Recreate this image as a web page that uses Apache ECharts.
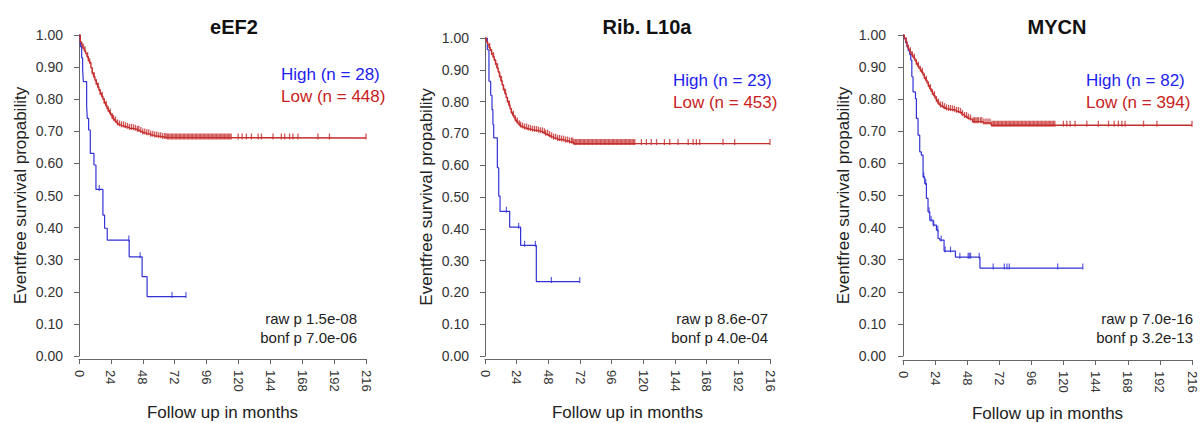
<!DOCTYPE html>
<html>
<head>
<meta charset="utf-8">
<title>Eventfree survival</title>
<script src="https://cdn.jsdelivr.net/npm/echarts@6/dist/echarts.min.js"></script>
<style>
  html, body { margin: 0; padding: 0; background: #fff; }
  #chart { width: 1200px; height: 423px; }
</style>
</head>
<body>
<div id="chart"></div>
<script>
// axis ticks
var xTicks = [0, 24, 48, 72, 96, 120, 144, 168, 192, 216]
var yTicks = [0, 0.1, 0.2, 0.3, 0.4, 0.5, 0.6, 0.7, 0.8, 0.9, 1.0]

var titles = ['eEF2', 'Rib. L10a', 'MYCN']
var highN = [28, 23, 82]
var lowN = [448, 453, 394]
var rawP = ['1.5e-08', '8.6e-07', '7.0e-16']
var bonfP = ['7.0e-06', '4.0e-04', '3.2e-13']

// eEF2 - high group
var eef2HighT = [0, 1, 2, 2.75, 3.25, 5.75, 6.25, 7.25, 8.5, 11.25, 12.75, 18, 19.25, 21.25, 37.75, 47.5, 51.25, 80.5]
var eef2HighS = [1.0, 0.964, 0.929, 0.891, 0.855, 0.777, 0.74, 0.704, 0.631, 0.595, 0.519, 0.439, 0.398, 0.361, 0.309, 0.247, 0.185, 0.185]
var eef2HighCens = [15.25, 37.5, 46, 70, 80.5]
// eEF2 - low group
var eef2LowT = [0, 1, 2, 3, 4, 5, 6, 7, 8, 9, 10, 11, 12, 13, 14, 15, 16, 17, 18, 19, 20, 21, 22, 23, 24, 25, 26, 27, 28, 29, 30, 32, 34, 36, 38, 40, 42, 44, 46, 48, 51, 54, 57, 60, 63, 66, 216]
var eef2LowS = [1.0, 0.978, 0.968, 0.960, 0.951, 0.942, 0.933, 0.920, 0.914, 0.898, 0.882, 0.870, 0.859, 0.849, 0.838, 0.828, 0.818, 0.809, 0.800, 0.790, 0.781, 0.772, 0.765, 0.757, 0.750, 0.743, 0.737, 0.732, 0.727, 0.723, 0.720, 0.717, 0.714, 0.712, 0.709, 0.708, 0.706, 0.703, 0.699, 0.695, 0.692, 0.688, 0.685, 0.683, 0.681, 0.679, 0.679]
var eef2LowCens = [3, 4.5, 6.5, 8, 10, 11.5, 13, 14.5, 16, 17.5, 19, 20.5, 22, 23.5, 25, 26, 27.5, 29, 30.5, 32, 33.5, 35, 36.5, 38, 39.5, 41, 42.5, 44, 45, 46.5, 48, 49.5, 51, 52.5, 54, 55.5, 57, 58.5, 60, 61.5, 63, 64.5,
  65.5, 66.5, 67.5, 68.5, 69.5, 70.5, 71.5, 72.5, 73.5, 74.5, 75.5, 76.5, 77.5, 78.5, 79.5, 80.5, 81.5, 82.5, 83.5, 84.5, 85.5, 86.5, 87.5, 88.5, 89.5, 90.5, 91.5, 92.5, 93.5, 94.5, 95.5, 96.5, 97.5, 98.5, 99.5, 100.5, 101.5, 102.5, 103.5, 104.5, 105.5, 106.5, 107.5, 108.5, 109.5, 110.5, 111.5, 112.5, 113.5, 114.5,
  119.8, 122.8, 126, 129.8, 134.8, 137.3, 146, 152.3, 154.8, 158.5, 161, 164.8, 179.8, 188.5, 216]

// Rib. L10a - high group
var ribHighT = [0, 1.75, 3, 4.3, 5.3, 6, 6.6, 9.35, 10.4, 11.4, 18.7, 27, 38.9, 71.8]
var ribHighS = [1.0, 0.963, 0.864, 0.82, 0.775, 0.728, 0.686, 0.592, 0.503, 0.455, 0.405, 0.348, 0.234, 0.234]
var ribHighCens = [16.2, 25.5, 30, 38.2, 50.3, 71.8]
// Rib. L10a - low group
var ribLowT = [0, 1, 2, 3, 4, 5, 6, 7, 8, 9, 10, 11, 12, 13, 14, 15, 16, 17, 18, 19, 20, 21, 22, 23, 24, 25, 26, 27, 28, 30, 32, 34, 36, 38, 40, 42, 44, 46, 48, 50, 52, 55, 58, 61, 64, 67, 216]
var ribLowS = [1.0, 0.988, 0.980, 0.970, 0.961, 0.951, 0.941, 0.930, 0.919, 0.906, 0.893, 0.880, 0.866, 0.852, 0.839, 0.826, 0.813, 0.801, 0.789, 0.777, 0.766, 0.757, 0.749, 0.742, 0.736, 0.730, 0.727, 0.723, 0.720, 0.717, 0.714, 0.712, 0.710, 0.709, 0.707, 0.705, 0.702, 0.697, 0.693, 0.689, 0.685, 0.681, 0.679, 0.676, 0.673, 0.668, 0.668]
var ribLowCens = [3.5, 5, 6.5, 8, 9.5, 11, 12.5, 14, 15.5, 17, 18.5, 20, 21.5, 23, 24.5, 26, 27, 28.5, 30, 31.5, 33, 34.5, 36, 37.5, 39, 40.5, 42, 43.5, 45, 46, 47.5, 49, 50.5, 52, 53.5, 55, 56.5, 58, 59.5, 61, 62.5, 64, 65.5,
  66.5, 67.5, 68.5, 69.5, 70.5, 71.5, 72.5, 73.5, 74.5, 75.5, 76.5, 77.5, 78.5, 79.5, 80.5, 81.5, 82.5, 83.5, 84.5, 85.5, 86.5, 87.5, 88.5, 89.5, 90.5, 91.5, 92.5, 93.5, 94.5, 95.5, 96.5, 97.5, 98.5, 99.5, 100.5, 101.5, 102.5, 103.5, 104.5, 105.5, 106.5, 107.5, 108.5, 109.5, 110.5, 111.5, 112.5, 113.5,
  118.5, 122.3, 126, 130, 136, 140, 146.3, 154, 157.7, 160.2, 162.7, 180.4, 189.2, 216]

// MYCN - high group
var mycnHighT = [0, 1, 2, 3, 4, 5, 5.8, 6.6, 7.5, 9.3, 10, 11.25, 12.5, 13.7, 15, 16.25, 17.5, 18.7, 20, 22.5, 25, 26.2, 27.5, 30.7, 39.2, 57.5, 134.4]
var mycnHighS = [1.0, 0.988, 0.976, 0.963, 0.951, 0.939, 0.922, 0.87, 0.823, 0.802, 0.74, 0.688, 0.636, 0.626, 0.558, 0.537, 0.491, 0.449, 0.423, 0.408, 0.392, 0.366, 0.361, 0.327, 0.308, 0.274, 0.274]
var mycnHighCens = [15.5, 17, 19.5, 21, 23, 26, 28.5, 31.5, 35.5, 42.5, 48.7, 49.5, 50.5, 57, 67.4, 75.7, 77.7, 79.4, 115.6, 134.4]
// MYCN - low group
var mycnLowT = [0, 1, 2, 3, 4, 5, 6, 7, 8, 9, 10, 11, 12, 13, 14, 15, 16, 17, 18, 19, 20, 21, 22, 23, 24, 25, 26, 27, 28, 30, 32, 34, 36, 38, 40, 42, 44, 46, 48, 50, 52, 60, 66, 216]
var mycnLowS = [1.0, 0.990, 0.979, 0.965, 0.956, 0.948, 0.940, 0.935, 0.928, 0.920, 0.911, 0.903, 0.896, 0.890, 0.884, 0.875, 0.867, 0.859, 0.850, 0.842, 0.833, 0.825, 0.818, 0.811, 0.803, 0.796, 0.788, 0.783, 0.779, 0.774, 0.770, 0.768, 0.767, 0.765, 0.762, 0.759, 0.752, 0.746, 0.741, 0.738, 0.730, 0.726, 0.719, 0.719]
var mycnLowCens = [2.5, 4, 5.5, 7, 8.5, 10, 11.5, 13, 14.5, 16, 17.5, 19, 20.5, 22, 23.5, 25, 26.5, 28, 29.5, 31, 32.5, 34, 35.5, 37, 38.5, 40, 41.5, 43, 44.5, 46, 47.5, 49, 50.5, 52.5, 53.5, 54.5, 55.5, 56.5, 58, 59, 60.5, 62, 63.5, 65,
  66.5, 67.5, 68.5, 69.5, 70.5, 71.5, 72.5, 73.5, 74.5, 75.5, 76.5, 77.5, 78.5, 79.5, 80.5, 81.5, 82.5, 83.5, 84.5, 85.5, 86.5, 87.5, 88.5, 89.5, 90.5, 91.5, 92.5, 93.5, 94.5, 95.5, 96.5, 97.5, 98.5, 99.5, 100.5, 101.5, 102.5, 103.5, 104.5, 105.5, 106.5, 107.5, 108.5, 109.5, 110.5, 111.5, 112.5, 113.5,
  119.9, 122.4, 124.9, 128.6, 137.4, 146, 153.6, 157.8, 161, 163.6, 166, 179.8, 189.8, 216]

var highColor = '#3232d6'
var lowColor = '#c62d2d'
var font = '"Liberation Sans", Arial, Helvetica, sans-serif'

// layout of each panel (pixels)
var layout = [
  { left: 79, top: 35, width: 287, height: 321, yOff: 2, xOff: 3, titleX: 229, legX: 281, legY: 66, pX: 357 },
  { left: 485, top: 38, width: 285, height: 318, yOff: 2, xOff: 3, titleX: 642, legX: 673, legY: 72, pX: 768 },
  { left: 903, top: 35, width: 289, height: 321, yOff: 3, xOff: 4, titleX: 1052, legX: 1086, legY: 72, pX: 1193 }
]

var curves = [
  { hT: eef2HighT, hS: eef2HighS, hC: eef2HighCens, lT: eef2LowT, lS: eef2LowS, lC: eef2LowCens },
  { hT: ribHighT, hS: ribHighS, hC: ribHighCens, lT: ribLowT, lS: ribLowS, lC: ribLowCens },
  { hT: mycnHighT, hS: mycnHighS, hC: mycnHighCens, lT: mycnLowT, lS: mycnLowS, lC: mycnLowCens }
]

// survival value of a step curve at time t
function survAt(ts, ss, t) {
  var s = ss[0]
  for (var i = 0; i < ts.length; i++) {
    if (ts[i] <= t) s = ss[i]
  }
  return s
}

function zip(ts, ss) {
  return ts.map(function (t, i) { return [t, ss[i]] })
}

var grids = [], xAxes = [], yAxes = [], series = [], legends = [], titleList = [], texts = []

layout.forEach(function (g, i) {
  var c = curves[i]
  var hName = 'High (n = ' + highN[i] + ')'
  var lName = 'Low (n = ' + lowN[i] + ')'

  grids.push({ left: g.left, top: g.top, width: g.width, height: g.height, containLabel: false, outerBoundsMode: 'none' })

  xAxes.push({
    gridIndex: i,
    type: 'value',
    min: xTicks[0],
    max: xTicks[xTicks.length - 1],
    interval: xTicks[1] - xTicks[0],
    offset: g.xOff,
    name: 'Follow up in months',
    nameLocation: 'middle',
    nameGap: 45,
    nameTextStyle: { fontSize: 17, color: '#222', fontFamily: font },
    axisLine: { show: true, onZero: false, lineStyle: { color: '#666', width: 1 } },
    axisTick: { show: true, length: 5, lineStyle: { color: '#666' } },
    axisLabel: { rotate: -90, margin: 11, fontSize: 13, color: '#333', fontFamily: font },
    splitLine: { show: false }
  })

  yAxes.push({
    gridIndex: i,
    type: 'value',
    min: yTicks[0],
    max: yTicks[yTicks.length - 1],
    interval: 0.1,
    offset: g.yOff,
    name: 'Eventfree survival propability',
    nameLocation: 'middle',
    nameGap: 48,
    nameRotate: 90,
    nameTextStyle: { fontSize: 17, color: '#222', fontFamily: font },
    axisLine: { show: true, lineStyle: { color: '#666', width: 1 } },
    axisTick: { show: true, length: 5, lineStyle: { color: '#666' } },
    axisLabel: {
      margin: 14, fontSize: 14, color: '#333', fontFamily: font,
      formatter: function (v) { return v.toFixed(2) }
    },
    splitLine: { show: false }
  })

  series.push({
    name: hName, type: 'line', step: 'end', xAxisIndex: i, yAxisIndex: i,
    showSymbol: false, silent: true,
    lineStyle: { color: highColor, width: 1.2 }, itemStyle: { color: highColor },
    data: zip(c.hT, c.hS)
  })
  series.push({
    name: hName, type: 'scatter', xAxisIndex: i, yAxisIndex: i, silent: true,
    symbol: 'rect', symbolSize: [1.2, 6], symbolOffset: [0, -1.5],
    itemStyle: { color: highColor },
    data: c.hC.map(function (t) { return [t, survAt(c.hT, c.hS, t)] })
  })
  series.push({
    name: lName, type: 'line', step: 'end', xAxisIndex: i, yAxisIndex: i,
    showSymbol: false, silent: true,
    lineStyle: { color: lowColor, width: 1.4 }, itemStyle: { color: lowColor },
    data: zip(c.lT, c.lS)
  })
  series.push({
    name: lName, type: 'scatter', xAxisIndex: i, yAxisIndex: i, silent: true,
    symbol: 'rect', symbolSize: [1.3, 6], symbolOffset: [0, -1.5],
    itemStyle: { color: lowColor },
    data: c.lC.map(function (t) { return [t, survAt(c.lT, c.lS, t)] })
  })

  legends.push({
    orient: 'vertical', left: g.legX - 5, top: g.legY, padding: 0,
    icon: 'none', itemWidth: 0, itemHeight: 17, itemGap: 5, selectedMode: false,
    textStyle: { fontSize: 17, fontFamily: font },
    data: [
      { name: hName, textStyle: { color: '#2222ee' } },
      { name: lName, textStyle: { color: '#c82222' } }
    ]
  })

  titleList.push({
    text: titles[i], left: g.titleX, top: 12, textAlign: 'center',
    textStyle: { fontSize: 20, fontWeight: 'bold', color: '#111', fontFamily: font }
  })

  texts.push({
    type: 'text', x: g.pX, y: 318,
    style: { text: 'raw p ' + rawP[i], fill: '#222', font: '15px ' + font, textAlign: 'right', align: 'right', textVerticalAlign: 'middle', verticalAlign: 'middle' }
  })
  texts.push({
    type: 'text', x: g.pX, y: 337,
    style: { text: 'bonf p ' + bonfP[i], fill: '#222', font: '15px ' + font, textAlign: 'right', align: 'right', textVerticalAlign: 'middle', verticalAlign: 'middle' }
  })
})

var chart = echarts.init(document.getElementById('chart'), null, { renderer: 'svg' })
chart.setOption({
  animation: false,
  backgroundColor: '#fff',
  textStyle: { fontFamily: font },
  title: titleList,
  legend: legends,
  grid: grids,
  xAxis: xAxes,
  yAxis: yAxes,
  graphic: texts,
  series: series
})
</script>
</body>
</html>
